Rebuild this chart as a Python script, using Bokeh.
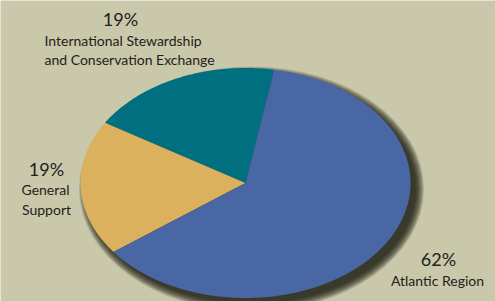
import numpy as np
from bokeh.plotting import figure
from bokeh.models import Range1d, Label
from bokeh.embed import file_html
from bokeh.resources import INLINE

categories = ["International Stewardship\nand Conservation  Exchange", "General\nSupport", "Atlantic Region"]
shares = [19, 19, 62]
colors = ["#006f80", "#dbb15e", "#4a67a5"]

BG = "#cac8ab"
W, H = 495, 301
cx, cy = 245, 182.5      # pie centre in px (from top)
ax, ay = 165, 115        # semi-axes in px

p = figure(width=W, height=H, output_backend="svg", toolbar_location=None,
           x_range=Range1d(-cx / ax, (W - cx) / ax),
           y_range=Range1d(-(H - cy) / ay, cy / ay),
           min_border=0, outline_line_color=None,
           background_fill_color=BG, border_fill_color=BG)
p.axis.visible = False
p.grid.visible = False

# soft drop shadow
n = 14
for k in range(n):
    grow = (n - k) * 0.65 - 1.5
    p.ellipse(x=6 / ax, y=-6 / ay, width=2 + 2 * grow / ax, height=2 + 2 * grow / ay,
              fill_color="#1c1c0e", fill_alpha=0.11, line_color=None)

start = np.deg2rad(80)
total = sum(shares)
xs, ys = [], []
a0 = start
for s in shares:
    a1 = a0 + 2 * np.pi * s / total
    t = np.linspace(a0, a1, 200)
    xs.append([0.0] + list(np.cos(t)) + [0.0])
    ys.append([0.0] + list(np.sin(t)) + [0.0])
    a0 = a1
p.patches(xs, ys, fill_color=colors, line_color=None)

FONT = "Lato"
TXT = "#222219"

def px(x):
    return (x - cx) / ax

def py(y):
    return (cy - y) / ay

def lab(x, y, t, size, align="center"):
    p.add_layout(Label(x=px(x), y=py(y), text=t, text_font=FONT, text_font_size=size,
                       text_color=TXT, text_align=align, text_baseline="middle"))

lab(120, 18, f"{shares[0]}%", "18px")
lab(44, 40, "International Stewardship", "14px", "left")
lab(44, 59, "and Conservation  Exchange", "14px", "left")

lab(46, 168, f"{shares[1]}%", "18px")
lab(45, 189, "General", "14px")
lab(46, 209, "Support", "14px")

lab(438, 258, f"{shares[2]}%", "18px")
lab(437, 280, "Atlantic Region", "14px")

html = file_html(p, INLINE)
html = html.replace("<body>", f'<body style="background:{BG};margin:0;overflow:hidden">', 1)
open("out.html", "w").write(html)
